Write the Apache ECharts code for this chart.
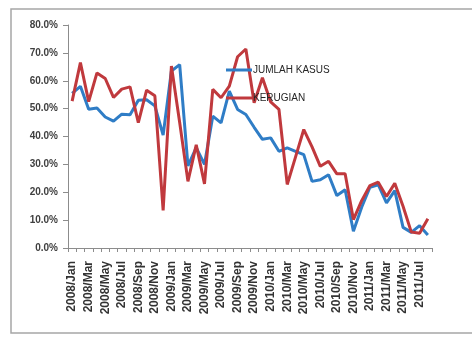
<!DOCTYPE html>
<html>
<head>
<meta charset="utf-8">
<title>Jumlah Kasus dan Kerugian</title>
<script src="https://cdn.jsdelivr.net/npm/echarts@6/dist/echarts.min.js"></script>
<style>
    html, body { margin: 0; padding: 0; background: #fff; }
    #line_chart { width: 472px; height: 343px; }
</style>
</head>
<body>
<div id="line_chart"></div>
<script>

// Chart data
// ------------------------------

var months = [
    '2008/Jan','2008/Feb','2008/Mar','2008/Apr','2008/May','2008/Jun','2008/Jul','2008/Aug','2008/Sep','2008/Oct','2008/Nov','2008/Dec',
    '2009/Jan','2009/Feb','2009/Mar','2009/Apr','2009/May','2009/Jun','2009/Jul','2009/Aug','2009/Sep','2009/Oct','2009/Nov','2009/Dec',
    '2010/Jan','2010/Feb','2010/Mar','2010/Apr','2010/May','2010/Jun','2010/Jul','2010/Aug','2010/Sep','2010/Oct','2010/Nov','2010/Dec',
    '2011/Jan','2011/Feb','2011/Mar','2011/Apr','2011/May','2011/Jun','2011/Jul','2011/Aug'
];

// percent values
var jumlahKasus = [
    55.5, 58.0, 49.8, 50.2, 47.0, 45.5, 48.0, 47.8, 53.0, 53.2, 51.0, 40.5,
    63.5, 65.8, 29.5, 36.0, 30.0, 47.3, 44.9, 56.3, 49.7, 47.9, 43.3, 39.0,
    39.5, 34.7, 35.9, 34.7, 33.5, 23.9, 24.5, 26.3, 18.8, 20.9, 6.0, 14.6,
    21.8, 22.7, 16.2, 20.6, 7.4, 5.6, 8.0, 4.7
];

var kerugian = [
    52.7, 66.5, 52.5, 62.8, 60.8, 54.0, 57.0, 57.8, 45.0, 56.6, 54.6, 13.5,
    65.3, 45.0, 23.9, 37.0, 23.0, 56.9, 53.9, 58.1, 68.6, 71.4, 52.1, 61.1,
    52.4, 49.7, 22.8, 32.6, 42.5, 36.3, 29.3, 31.1, 26.6, 26.6, 10.2, 17.0,
    22.4, 23.6, 18.5, 23.2, 15.0, 5.7, 5.3, 10.5
];

var yTicks = [0, 10, 20, 30, 40, 50, 60, 70, 80];


// Setup module
// ------------------------------

var EchartsLinesKasus = function() {

    var _lineKasusExample = function() {
        if (typeof echarts == 'undefined') {
            console.warn('Warning - echarts.min.js is not loaded.');
            return;
        }

        // Define element
        var line_element = document.getElementById('line_chart');

        if (line_element) {

            // Initialize chart
            var line_chart = echarts.init(line_element);

            // Options
            line_chart.setOption({

                color: ['#2f7dc6', '#c0393d'],

                textStyle: {
                    fontFamily: 'Arial, "Liberation Sans", sans-serif'
                },

                animation: false,

                // Outer frame
                graphic: [{
                    type: 'rect',
                    shape: { x: 11, y: 9, width: 470, height: 324 },
                    style: { fill: 'none', stroke: '#a6a6a6', lineWidth: 1.5 },
                    z: -1
                }],

                grid: {
                    left: 68,
                    right: 40,
                    top: 25,
                    bottom: 95
                },

                legend: {
                    data: ['JUMLAH KASUS', 'KERUGIAN'],
                    orient: 'vertical',
                    left: 221,
                    top: 60,
                    icon: 'rect',
                    itemWidth: 26,
                    itemHeight: 3,
                    itemGap: 18,
                    textStyle: {
                        color: '#262626',
                        fontSize: 10,
                        padding: [0, 0, 0, -4]
                    }
                },

                // Horizontal axis
                xAxis: {
                    type: 'category',
                    boundaryGap: true,
                    data: months,
                    axisLine: {
                        lineStyle: { color: '#8c8c8c', width: 1 }
                    },
                    axisTick: {
                        show: true,
                        interval: 0,
                        length: 4,
                        lineStyle: { color: '#8c8c8c' }
                    },
                    axisLabel: {
                        interval: 1,
                        rotate: 90,
                        margin: 13,
                        color: '#333',
                        fontSize: 12,
                        fontWeight: 'bold'
                    },
                    splitLine: { show: false }
                },

                // Vertical axis
                yAxis: {
                    type: 'value',
                    min: yTicks[0],
                    max: yTicks[yTicks.length - 1],
                    interval: 10,
                    axisLine: {
                        show: true,
                        lineStyle: { color: '#8c8c8c', width: 1 }
                    },
                    axisTick: {
                        show: true,
                        length: 5,
                        lineStyle: { color: '#8c8c8c' }
                    },
                    axisLabel: {
                        margin: 10,
                        color: '#404040',
                        fontSize: 10,
                        fontWeight: 'bold',
                        formatter: function(v) { return v.toFixed(1) + '%'; }
                    },
                    splitLine: { show: false }
                },

                series: [
                    {
                        name: 'JUMLAH KASUS',
                        type: 'line',
                        symbol: 'none',
                        lineStyle: { width: 3 },
                        data: jumlahKasus
                    },
                    {
                        name: 'KERUGIAN',
                        type: 'line',
                        symbol: 'none',
                        lineStyle: { width: 3 },
                        data: kerugian
                    }
                ]
            });
        }
    };

    return {
        init: function() {
            _lineKasusExample();
        }
    }
}();


// Initialize module
// ------------------------------

document.addEventListener('DOMContentLoaded', function() {
    EchartsLinesKasus.init();
});
</script>
</body>
</html>
